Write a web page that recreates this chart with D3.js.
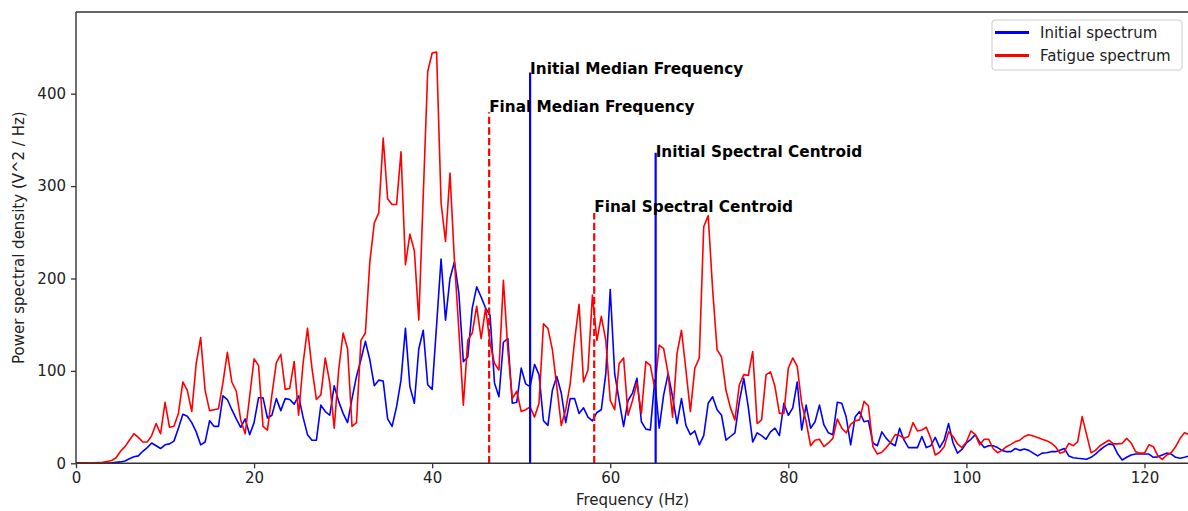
<!DOCTYPE html>
<html>
<head>
<meta charset="utf-8">
<script src="https://cdn.jsdelivr.net/npm/d3@7/dist/d3.min.js"></script>
<style>
  body { margin: 0; background: #fff; }
  svg { font-family: "DejaVu Sans", sans-serif; display: block; }
</style>
</head>
<body>
<svg width="1188" height="511"></svg>
<script>
// spectrum bins, 0.5 Hz apart, 0 .. 125 Hz (one row = 10 Hz)
var binWidth = 0.5;

var initialSpectrum = [
  0, 0, 0, 0, 0, 0, 0.2, 0.3, 0.5, 1, 1.5, 2.5, 5, 7, 8, 13, 17, 22, 19, 16,
  20, 21, 24, 38, 53, 51, 44, 34, 20, 23, 46, 40, 40, 73, 69, 58, 48, 39, 48, 31,
  44, 71, 71, 49, 52, 70, 57, 70, 69, 64, 73, 50, 31, 25, 25, 63, 56, 52, 84, 67,
  54, 44, 70, 94, 112, 132, 112, 84, 90, 89, 48, 40, 61, 90, 146, 83, 65, 124, 144, 85,
  80, 150, 221, 155, 200, 218, 184, 110, 115, 168, 191, 180, 168, 160, 87, 72, 131, 135, 65, 66,
  103, 86, 83, 107, 96, 46, 41, 79, 94, 76, 44, 70, 70, 54, 60, 50, 46, 55, 58, 97,
  188, 97, 68, 40, 68, 76, 92, 45, 37, 36, 90, 38, 74, 97, 72, 43, 70, 41, 31, 35,
  20, 30, 65, 72, 58, 52, 25, 29, 33, 67, 92, 61, 23, 33, 30, 26, 34, 38, 30, 65,
  52, 60, 88, 36, 63, 38, 45, 63, 41.5, 33, 31, 66, 65, 50, 20, 50, 56, 45, 46, 22,
  19, 34, 27, 22, 19, 38, 25, 17, 17, 17, 29, 17, 19, 28, 17, 25, 43, 22, 11, 15,
  22, 26, 31, 23, 17, 19, 19, 17, 14, 12.6, 12.6, 16, 14, 15.5, 14, 11, 8, 11, 11.5, 12.6,
  12.6, 14, 16, 8, 6, 5.4, 5, 4.3, 6.5, 10, 14.4, 18, 21, 20, 10, 3.6, 6.5, 9, 10, 10,
  10, 10, 6.5, 7, 9, 11, 10, 6.5, 5.4, 6.5, 8
];

var fatigueSpectrum = [
  0.5, 0.5, 0.5, 0.5, 0.6, 0.8, 1, 2, 3, 6, 13, 18, 25, 32, 28, 23, 23, 30, 43, 32,
  66, 39, 40, 54, 88, 79, 56, 108, 136, 79, 57, 58, 59, 87, 120, 88, 78, 47, 32, 72,
  113, 106, 40, 36, 74, 109, 118, 80, 81, 110, 52, 108, 146, 103, 69, 74, 114, 87, 38, 101,
  141, 124, 40, 44, 133, 141, 218, 260, 271, 352, 286, 280, 280, 337, 215, 248, 230, 155, 290, 424,
  444, 445, 282, 240, 314, 220, 144, 63, 133, 141, 170, 135, 168, 130, 108, 101, 198, 123, 70, 78,
  56, 58, 61, 50, 65, 151, 146, 123, 83, 41, 58, 86, 133, 172, 88, 101, 182, 133, 159, 133,
  68, 58, 108, 114, 52, 68, 87, 54, 110, 106, 81, 128, 124, 97, 50, 119, 144, 101, 56, 103,
  114, 256, 268, 188, 123, 115, 79, 60, 47, 85, 96, 95, 121, 43, 47, 96, 99, 83, 54, 54,
  103, 114, 105, 65, 45, 19, 25, 26, 18, 22, 27, 48, 38, 33, 42, 46, 47, 67, 62, 18,
  10, 12, 17, 23, 31, 30, 27, 29, 44, 35, 36, 39, 27, 9, 12, 18, 34, 29, 21, 17,
  23, 35, 31, 20, 26, 26, 16, 11.5, 14, 18, 20.5, 23.5, 25, 29, 31, 29.5, 28, 26, 24.5, 22,
  18, 11, 12.6, 21.6, 19, 23.5, 50.5, 31, 11.5, 14, 19, 22, 25, 21, 21, 21.6, 27, 22, 12.6, 11,
  11, 20, 18, 8, 4.3, 9, 11.5, 18, 27, 33, 31
];

// vertical markers
var markerLabels = ["Initial Median Frequency", "Final Median Frequency",
                    "Initial Spectral Centroid", "Final Spectral Centroid"];
var markerFreqs = [51.0, 46.4, 65.1, 58.2];
var markerHeights = [423, 380, 336, 271];
var markerTextHeights = [421, 380.5, 331, 272];
var markerInitial = [true, false, true, false];

var xTicks = [0, 20, 40, 60, 80, 100, 120];
var yTicks = [0, 100, 200, 300, 400];
var legendLabels = ["Initial spectrum", "Fatigue spectrum"];
var blue = "#0000ff", red = "#ff0000";

var svg = d3.select("svg");
var plotLeft = 76, plotRight = 1189, plotTop = 12, plotBottom = 463.3;

var x = d3.scaleLinear().domain([0, 125]).range([plotLeft, plotRight]);
var y = d3.scaleLinear().domain([0, 488.4]).range([plotBottom, plotTop]);

var freqs = initialSpectrum.map(function(d, i) { return i * binWidth; });

svg.append("defs").append("clipPath").attr("id", "plotclip")
  .append("rect").attr("x", plotLeft).attr("y", plotTop)
  .attr("width", plotRight - plotLeft).attr("height", plotBottom - plotTop);

var plot = svg.append("g").attr("clip-path", "url(#plotclip)");

var line = d3.line()
  .x(function(d, i) { return x(freqs[i]); })
  .y(function(d) { return y(d); });

plot.append("path").datum(initialSpectrum)
  .attr("d", line).attr("fill", "none")
  .attr("stroke", blue).attr("stroke-width", 1.6).attr("stroke-linejoin", "round");

plot.append("path").datum(fatigueSpectrum)
  .attr("d", line).attr("fill", "none")
  .attr("stroke", red).attr("stroke-width", 1.6).attr("stroke-linejoin", "round");

// markers
var markers = markerLabels.map(function(name, i) {
  return { name: name, f: markerFreqs[i], h: markerHeights[i],
           th: markerTextHeights[i], initial: markerInitial[i] };
});

plot.selectAll("line.marker")
  .data(markers)
  .enter().append("line")
  .attr("class", "marker")
  .attr("x1", function(d) { return x(d.f); })
  .attr("x2", function(d) { return x(d.f); })
  .attr("y1", y(0))
  .attr("y2", function(d) { return y(d.h); })
  .attr("stroke", function(d) { return d.initial ? blue : red; })
  .attr("stroke-width", 2.2)
  .attr("stroke-dasharray", function(d) { return d.initial ? null : "7.4,3.2"; });

svg.selectAll("text.marker")
  .data(markers)
  .enter().append("text")
  .attr("class", "marker")
  .attr("x", function(d) { return x(d.f); })
  .attr("y", function(d) { return y(d.th); })
  .attr("font-size", "15.3px")
  .attr("font-weight", "bold")
  .text(function(d) { return d.name; });

// axes
var xAxis = d3.axisBottom(x).tickValues(xTicks).tickSize(5).tickPadding(4);
var yAxis = d3.axisLeft(y).tickValues(yTicks).tickSize(5).tickPadding(5);

var gx = svg.append("g").attr("transform", "translate(0," + plotBottom + ")").call(xAxis);
var gy = svg.append("g").attr("transform", "translate(" + plotLeft + ",0)").call(yAxis);

[gx, gy].forEach(function(g) {
  g.select(".domain").remove();
  g.selectAll(".tick line").attr("stroke", "#333").attr("stroke-width", 1.3);
  g.selectAll(".tick text").attr("font-size", "15px").attr("fill", "#222")
    .attr("font-family", "DejaVu Sans, sans-serif");
});

// spines (right one falls off the picture)
svg.append("line").attr("x1", plotLeft).attr("x2", plotLeft).attr("y1", plotTop).attr("y2", plotBottom)
  .attr("stroke", "#333").attr("stroke-width", 1.4);
svg.append("line").attr("x1", plotLeft).attr("x2", plotRight).attr("y1", plotBottom).attr("y2", plotBottom)
  .attr("stroke", "#333").attr("stroke-width", 1.4);
svg.append("line").attr("x1", plotLeft).attr("x2", plotRight).attr("y1", plotTop).attr("y2", plotTop)
  .attr("stroke", "#333").attr("stroke-width", 1.4);

svg.append("text")
  .attr("x", (plotLeft + plotRight) / 2).attr("y", 505)
  .attr("text-anchor", "middle").attr("font-size", "15px").attr("fill", "#222")
  .text("Frequency (Hz)");

svg.append("text")
  .attr("transform", "translate(24," + ((plotTop + plotBottom) / 2) + ") rotate(-90)")
  .attr("text-anchor", "middle").attr("font-size", "15px").attr("fill", "#222")
  .text("Power spectral density (V^2 / Hz)");

// legend
var legend = svg.append("g").attr("transform", "translate(992,20)");
legend.append("rect")
  .attr("width", 190).attr("height", 50).attr("rx", 3)
  .attr("fill", "#fff").attr("fill-opacity", 0.8)
  .attr("stroke", "#cccccc").attr("stroke-width", 1);

var items = legend.selectAll("g.item")
  .data(legendLabels)
  .enter().append("g")
  .attr("class", "item")
  .attr("transform", function(d, i) { return "translate(0," + (12.5 + i * 23) + ")"; });

items.append("line")
  .attr("x1", 3).attr("x2", 37)
  .attr("stroke", function(d, i) { return i === 0 ? blue : red; })
  .attr("stroke-width", 3.2);

items.append("text")
  .attr("x", 48).attr("y", 5.3)
  .attr("font-size", "15px").attr("fill", "#222")
  .text(function(d) { return d; });
</script>
</body>
</html>
